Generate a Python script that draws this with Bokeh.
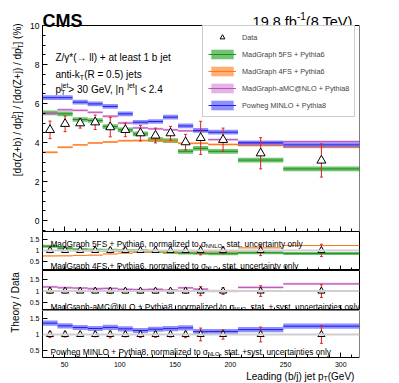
import math
from bokeh.plotting import figure
from bokeh.models import (Range1d, Label, Legend, LegendItem, SingleIntervalTicker,
                          FixedTicker, CustomJSTickFormatter, Span, LinearAxis)
from bokeh.layouts import row, column
from bokeh.embed import file_html
from bokeh.resources import INLINE

# ---------------- data ----------------
bin_edges = [30, 43.6, 57.3, 70.9, 84.5, 98.2, 111.8, 125.5, 139.1, 152.7, 166.4, 180, 207, 248, 317]
data_vals = [4.65, 4.96, 4.99, 5.04, 4.79, 4.65, 4.48, 4.36, 4.48, 4.02, 4.24, 4.14, 3.45, 3.08]
data_errs = [0.45, 0.40, 0.25, 0.37, 0.50, 0.35, 0.40, 0.38, 0.35, 0.40, 0.85, 0.60, 0.80, 0.85]
mg5fs_vals = [5.52, 5.47, 5.18, 5.13, 4.82, 4.65, 4.44, 4.15, 4.10, 3.55, 3.70, 3.55, 3.10, 2.65]
mg4fs_vals = [3.50, 3.76, 3.88, 3.98, 4.03, 4.09, 4.10, 4.12, 4.07, 3.96, 3.96, 3.90, 3.85, 3.76]
amcnlo_vals = [5.50, 5.68, 5.65, 5.55, 5.35, 5.00, 4.75, 4.70, 4.65, 4.60, 4.60, 4.15, 4.00, 4.05]
powheg_vals = [6.30, 6.30, 6.07, 5.98, 5.85, 5.47, 5.04, 5.08, 5.30, 4.85, 4.62, 4.53, 3.98, 3.88]
# half widths of theory bands (main panel, %)
mg5fs_unc, mg4fs_unc, amcnlo_unc, powheg_unc = 0.12, 0.05, 0.06, 0.12
# half widths of theory bands in the ratio panels
mg5fs_runc, mg4fs_runc, amcnlo_runc, powheg_runc = 0.07, 0.015, 0.05, 0.08

x_tick_step = 50
main_y_tick_step = 2
main_y_max = 10.0
ratio_y_ticks = [0.5, 1, 1.5]

# ---------------- layout constants (page pixels) ----------------
FONT = "Liberation Sans"
X_LO, X_HI = 30, 317
LEFT_W = 26
LB, RB = 14, 6
FRAME_W = 319
FIG_W = LB + FRAME_W + RB
PM_H = 231                      # main figure: frame from page 0 to 231, box drawn from 25
BOX_TOP = 25
H_R1, H_R2 = 39, 40
R3_BOX = 47                     # visible box of the lowest panel
R3_H = 72                       # its frame reaches the page bottom (labels + title inside)
TOTAL_H = PM_H + H_R1 + H_R2 + R3_H
F_R1 = PM_H                    # 231
F_R2 = F_R1 + H_R1             # 270
F_R3 = F_R2 + H_R2             # 310
Y_MAIN_LO = -0.56
PX_PER_UNIT = (PM_H - BOX_TOP) / (main_y_max - Y_MAIN_LO)
YR_MAIN = (Y_MAIN_LO, main_y_max + BOX_TOP / PX_PER_UNIT)
YR_R1 = (0.10, 1.85)
YR_R2 = (0.15, 1.90)
R3_LO, R3_HI = 0.28, 1.75
R3_PPU = R3_BOX / (R3_HI - R3_LO)
YR_R3 = (R3_LO - (R3_H - R3_BOX) / R3_PPU, R3_HI)

GREEN_F, GREEN_L = "#33aa33", "#1f8f1f"
ORANGE_F, ORANGE_L = "#ff8c3a", "#ff7a1a"
PINK_F, PINK_L = "#cc77cc", "#c050c0"
BLUE_F, BLUE_L = "#4444ff", "#2020e0"
RED = "#e02020"

AW = {' ': 278, '%': 889, '(': 333, ')': 333, '*': 389, '+': 584, ',': 278, '-': 333, '.': 278,
      '/': 278, ':': 278, '<': 584, '=': 584, '>': 584, '@': 1015, '[': 278, ']': 278, '|': 260,
      'A': 667, 'B': 667, 'C': 722, 'D': 722, 'E': 667, 'F': 611, 'G': 778, 'H': 722, 'I': 278,
      'J': 500, 'K': 667, 'L': 556, 'M': 833, 'N': 722, 'O': 778, 'P': 667, 'Q': 778, 'R': 722,
      'S': 667, 'T': 611, 'U': 722, 'V': 667, 'W': 944, 'X': 667, 'Y': 667, 'Z': 611,
      'a': 556, 'b': 556, 'c': 500, 'd': 556, 'e': 556, 'f': 278, 'g': 556, 'h': 556, 'i': 222,
      'j': 222, 'k': 500, 'l': 222, 'm': 833, 'n': 556, 'o': 556, 'p': 556, 'q': 556, 'r': 333,
      's': 500, 't': 278, 'u': 556, 'v': 500, 'w': 722, 'x': 500, 'y': 500, 'z': 500,
      'σ': 571, 'γ': 500, 'η': 556, '→': 1000}


def tw(s, size):
    return sum(AW.get(c, 556) for c in s) * size / 1000.0


def px_x(page_x):
    return X_LO + (page_x - 40) * (X_HI - X_LO) / FRAME_W


def px_y(page_y, yr, top, h):
    return yr[1] - (page_y - top) * (yr[1] - yr[0]) / h


def text_run(fig, x, y, pieces, angle=0.0, bold=False):
    adv, pending = 0.0, 0.0
    for txt, size, dy, stack in pieces:
        w = tw(txt, size)
        if angle == 0.0:
            xo, yo = adv, dy
        else:
            xo, yo = -dy, adv
        fig.add_layout(Label(x=x, y=y, x_offset=xo, y_offset=yo, text=txt, angle=angle,
                             text_font=FONT, text_font_size=f"{size}px", text_color="black",
                             text_font_style="bold" if bold else "normal",
                             text_align="left", text_baseline="alphabetic"))
        if stack:
            pending = max(pending, w)
        else:
            adv += max(pending, w)
            pending = 0.0
    return adv


def style_axis(ax, size):
    ax.major_tick_in = 5
    ax.major_tick_out = 0
    ax.minor_tick_in = 3
    ax.minor_tick_out = 0
    ax.axis_line_color = "black"
    ax.major_tick_line_color = "black"
    ax.minor_tick_line_color = "black"
    ax.major_label_text_font = FONT
    ax.major_label_text_font_size = size
    ax.major_label_text_color = "black"
    ax.major_label_standoff = 3


blank_fmt = CustomJSTickFormatter(code="return ''")


def panel(h, yr, xlabels=False):
    p = figure(width=FIG_W, height=h, x_range=Range1d(X_LO, X_HI),
               y_range=Range1d(*yr), output_backend="svg", toolbar_location=None,
               min_border_left=LB, min_border_right=RB, min_border_top=0,
               min_border_bottom=0)
    p.xgrid.visible = False
    p.ygrid.visible = False
    p.outline_line_color = "black"
    p.background_fill_color = "white"
    p.border_fill_color = "white"
    style_axis(p.xaxis[0], "7px")
    style_axis(p.yaxis[0], "7px")
    p.xaxis.ticker = SingleIntervalTicker(interval=x_tick_step, num_minor_ticks=5)
    if not xlabels:
        p.xaxis.formatter = blank_fmt
        p.xaxis.major_label_standoff = 0
    else:
        p.xaxis.major_label_standoff = 4
    return p


def open_box(p, lo, hi):
    """frame reaches beyond the drawn box: draw the box from axes limited to [lo, hi]."""
    p.outline_line_color = None
    p.yaxis.bounds = (lo, hi)
    p.xaxis.fixed_location = lo
    p.add_layout(LinearAxis(fixed_location=X_HI, bounds=(lo, hi), ticker=FixedTicker(ticks=[]),
                            formatter=blank_fmt, axis_line_color="black", major_tick_in=0,
                            major_tick_out=0, minor_tick_in=0, minor_tick_out=0,
                            major_label_standoff=0), "right")
    p.add_layout(Span(location=hi, dimension="width", line_color="black", line_width=1))


def strip(w, h):
    s = figure(width=w, height=h, x_range=Range1d(0, w), y_range=Range1d(0, h),
               output_backend="svg", toolbar_location=None, min_border=0,
               x_axis_type=None, y_axis_type=None)
    s.grid.visible = False
    s.outline_line_color = None
    s.background_fill_color = "white"
    s.border_fill_color = "white"
    return s


lefts = bin_edges[:-1]
rights = bin_edges[1:]
centers = [(a + b) / 2 for a, b in zip(lefts, rights)]

# ---------------- main panel ----------------
pm = panel(PM_H, YR_MAIN)
pm.xaxis.fixed_location = Y_MAIN_LO
pm.yaxis.ticker = SingleIntervalTicker(interval=main_y_tick_step, num_minor_ticks=4)
pm.yaxis.major_label_text_font_size = "8.5px"
open_box(pm, Y_MAIN_LO, main_y_max)

series = [
    (mg5fs_vals, mg5fs_unc, GREEN_F, GREEN_L, 0.7, "MadGraph 5FS + Pythia6"),
    (mg4fs_vals, mg4fs_unc, ORANGE_F, ORANGE_L, 0.7, "MadGraph 4FS + Pythia6"),
    (amcnlo_vals, amcnlo_unc, PINK_F, PINK_L, 0.55, "MadGraph-aMC@NLO + Pythia8"),
    (powheg_vals, powheg_unc, BLUE_F, BLUE_L, 0.6, "Powheg MINLO + Pythia8"),
]
band_items = []
for vals, unc, fc, lc, fa, name in series:
    q = pm.quad(left=lefts, right=rights, bottom=[v - unc for v in vals],
                top=[v + unc for v in vals], fill_color=fc, fill_alpha=fa, line_color=None)
    s = pm.segment(x0=lefts, x1=rights, y0=vals, y1=vals, line_color=lc, line_width=1)
    band_items.append(LegendItem(label=name, renderers=[q, s]))

lo_m = [d - e for d, e in zip(data_vals, data_errs)]
hi_m = [d + e for d, e in zip(data_vals, data_errs)]
pm.segment(x0=centers, x1=centers, y0=lo_m, y1=hi_m, line_color=RED, line_width=1)
pm.scatter(x=centers + centers, y=lo_m + hi_m, marker="dash", size=3, line_color=RED, line_width=1)
tri = pm.scatter(x=centers, y=data_vals, marker="triangle", size=9, fill_color="white",
                 line_color="black", line_width=1)
dummy = pm.line(x=[], y=[], line_color="black", line_width=1)
legend_items = [LegendItem(label="Data", renderers=[dummy, tri])] + band_items
leg = Legend(items=legend_items, location=(200 - 40, PM_H - 117), margin=0, padding=5, spacing=5,
             glyph_width=28, glyph_height=12, label_height=12, label_standoff=6,
             label_text_font=FONT, label_text_font_size="7.3px",
             border_line_color="#999999", border_line_width=1, background_fill_alpha=1.0)
pm.add_layout(leg)


def my(page_y):
    return px_y(page_y, YR_MAIN, 0, PM_H)


text_run(pm, X_LO, my(20), [("CMS", 18, 0, False)], bold=True)
lumi = [("19.8 fb", 14.5, 0, False), ("-1", 10, 6, False), (" (8 TeV)", 14.5, 0, False)]
lw = sum(tw(t, s) for t, s, _, _ in lumi)
text_run(pm, px_x(357 - lw), my(21.5), lumi)

text_run(pm, px_x(53), my(57), [("Z/γ*(→ ll) + at least 1 b jet", 10, 0, False)])
text_run(pm, px_x(53), my(74), [("anti-k", 10, 0, False), ("T", 7, -2.5, False),
                                 (" (R = 0.5) jets", 10, 0, False)])
text_run(pm, px_x(53), my(89), [("p", 10, 0, False), ("T", 7, -2.5, True), ("jet", 7, 4.5, False),
                                 (" > 30 GeV, |η", 10, 0, False), ("jet", 7, 4.5, False),
                                 ("| < 2.4", 10, 0, False)])

# ---------------- ratio panels ----------------
ratio_fmt = CustomJSTickFormatter(code="return String(tick)")
rel_err = [e / d for d, e in zip(data_vals, data_errs)]


def ratio_panel(h, yr, xlabels=False):
    p = panel(h, yr, xlabels=xlabels)
    p.yaxis.ticker = FixedTicker(ticks=ratio_y_ticks, minor_ticks=[])
    p.yaxis.formatter = ratio_fmt
    p.add_layout(Span(location=1, dimension="width", line_color="#d0d0d0", line_width=2))
    return p


def add_band(p, vals, runc, fc, lc, fa):
    r = [v / d for v, d in zip(vals, data_vals)]
    p.quad(left=lefts, right=rights, bottom=[x - runc for x in r], top=[x + runc for x in r],
           fill_color=fc, fill_alpha=fa, line_color=None)
    p.segment(x0=lefts, x1=rights, y0=r, y1=r, line_color=lc, line_width=1)


def add_data(p, size=7):
    lo = [1 - e for e in rel_err]
    hi = [1 + e for e in rel_err]
    p.segment(x0=centers, x1=centers, y0=lo, y1=hi, line_color=RED, line_width=1)
    p.scatter(x=centers + centers, y=lo + hi, marker="dash", size=3, line_color=RED)
    p.scatter(x=centers, y=[1] * len(centers), marker="triangle", size=size,
              fill_color="white", line_color="black", line_width=1)


r1 = ratio_panel(H_R1, YR_R1)
r1.xaxis.fixed_location = YR_R1[0]
add_band(r1, mg5fs_vals, mg5fs_runc, GREEN_F, GREEN_L, 0.7)
add_band(r1, mg4fs_vals, mg4fs_runc, ORANGE_F, ORANGE_L, 0.7)
add_data(r1)

r2 = ratio_panel(H_R2, YR_R2)
r2.xaxis.fixed_location = YR_R2[0]
add_band(r2, amcnlo_vals, amcnlo_runc, PINK_F, PINK_L, 0.55)
add_data(r2)

r3 = ratio_panel(R3_H, YR_R3, xlabels=True)
open_box(r3, R3_LO, R3_HI)
add_band(r3, powheg_vals, powheg_runc, BLUE_F, BLUE_L, 0.6)
add_data(r3)


def note(p, yr, top, h, page_y, head, sub, tail):
    text_run(p, px_x(48), px_y(page_y, yr, top, h),
             [(head, 8.3, 0, False), (sub, 5.8, -2, False), (tail, 8.3, 0, False)])


note(r1, YR_R1, F_R1, H_R1, 243, "MadGraph 5FS + Pythia6, normalized to σ", "NNLO",
     ", stat. uncertainty only")
note(r1, YR_R1, F_R1, H_R1, 265, "MadGraph 4FS + Pythia6, normalized to σ", "NLO",
     ", stat. uncertainty only")
note(r2, YR_R2, F_R2, H_R2, 306, "MadGraph-aMC@NLO + Pythia8, normalized to σ", "NLO",
     ", stat. + syst. uncertainties only")
note(r3, YR_R3, F_R3, R3_H, 351, "Powheg MINLO + Pythia8, normalized to σ", "NLO",
     ", stat. +syst. uncertainties only")

# x title inside the lowest figure's frame, below the box
xt = [("Leading (b/j) jet p", 10, 0, False), ("T", 7, -2.5, False), (" (GeV)", 10, 0, False)]
xw = sum(tw(t, s) for t, s, _, _ in xt)
text_run(r3, px_x(356 - xw), px_y(375.5, YR_R3, F_R3, R3_H), xt)

# ---------------- left strip with the vertical axis titles ----------------
lf = strip(LEFT_W, TOTAL_H)


def ly(page_y):
    return TOTAL_H - page_y


ytitle = [("[dσ(Z+b) / dp", 10, 0, False), ("T", 7, -2.5, True), ("b", 7, 4.5, False),
          ("] / [dσ(Z+j) / dp", 10, 0, False), ("T", 7, -2.5, True), ("j", 7, 4.5, False),
          ("] (%)", 10, 0, False)]
yw = sum(tw(t, s) for t, s, _, st_ in ytitle if not st_)
text_run(lf, 17, ly(26 + yw), ytitle, angle=math.pi / 2)
tdw = tw("Theory / Data", 10)
text_run(lf, 15, ly(302 + tdw / 2), [("Theory / Data", 10, 0, False)], angle=math.pi / 2)

layout = row(lf, column(pm, r1, r2, r3))
open("out.html", "w").write(file_html(layout, INLINE))
